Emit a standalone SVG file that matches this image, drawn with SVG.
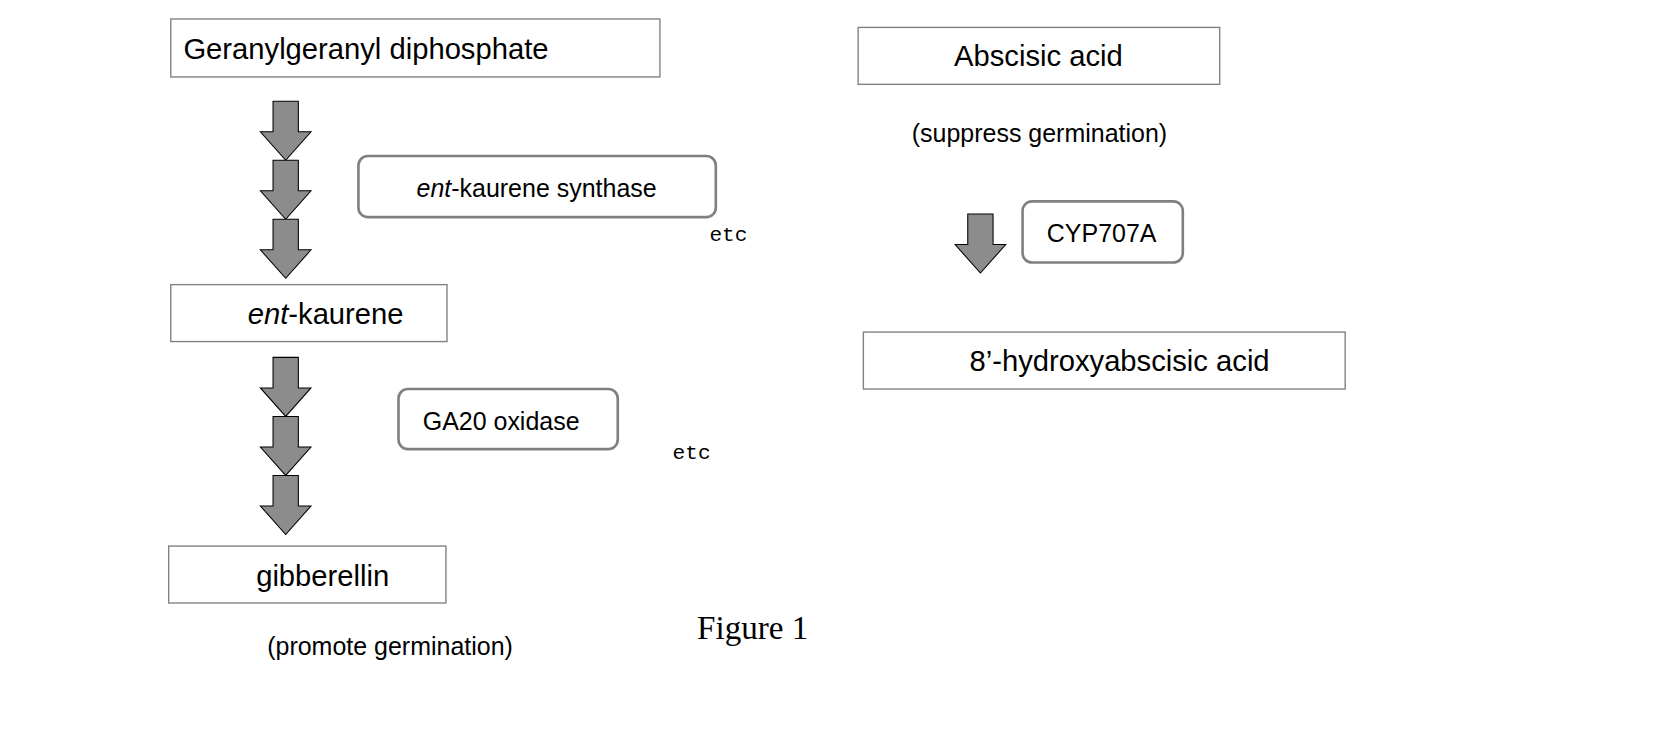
<svg xmlns="http://www.w3.org/2000/svg" width="1653" height="731" viewBox="0 0 1653 731">
<defs>
<style>
.box{fill:#fff;stroke:#808080;stroke-width:1.3}
.rbox{fill:#fff;stroke:#808080;stroke-width:2.5}
.ar{fill:#8c8c8c;stroke:#000;stroke-width:1}
text{font-family:"Liberation Sans",Arial,sans-serif;fill:#000}
.t{font-size:27.7px}
.s{font-size:23.7px}
.m{font-family:"Liberation Mono","DejaVu Sans Mono",monospace;font-size:20px}
</style>
<path id="arrow" class="ar" d="M-12,0 H12 V29 H24 L0,56 L-24,29 H-12 Z"/>
</defs>
<g transform="scale(1.0542)">
<g id="connectors">
<use href="#arrow" x="271" y="96"/>
<use href="#arrow" x="271" y="152"/>
<use href="#arrow" x="271" y="208"/>
<use href="#arrow" x="271" y="339"/>
<use href="#arrow" x="271" y="395"/>
<use href="#arrow" x="271" y="451"/>
<use href="#arrow" x="930" y="203"/>
</g>
<g id="ggpp"><rect class="box" x="162" y="18" width="464" height="55"/><text class="t" x="174" y="56">Geranylgeranyl diphosphate</text></g>
<g id="ks"><rect class="rbox" x="340" y="148" width="339" height="58" rx="9"/><text class="s" x="509" y="187" text-anchor="middle"><tspan font-style="italic">ent</tspan>-kaurene synthase</text></g>
<text class="m" x="673" y="229">etc</text>
<g id="entk"><rect class="box" x="162" y="270" width="262" height="54"/><text class="t" x="235" y="307"><tspan font-style="italic">ent</tspan>-kaurene</text></g>
<g id="ga20"><rect class="rbox" x="378" y="369" width="208" height="57" rx="9"/><text class="s" x="401" y="408">GA20 oxidase</text></g>
<text class="m" x="638" y="435">etc</text>
<g id="gib"><rect class="box" x="160" y="518" width="263" height="54"/><text class="t" x="243" y="556">gibberellin</text></g>
<text class="s" x="370" y="621" text-anchor="middle">(promote germination)</text>
<text x="714" y="606" text-anchor="middle" style="font-family:'Liberation Serif','Times New Roman',serif;font-size:31.4px">Figure 1</text>
<g id="aba"><rect class="box" x="814" y="26" width="343" height="54"/><text class="t" x="985" y="63" text-anchor="middle">Abscisic acid</text></g>
<text class="s" x="986" y="135" text-anchor="middle">(suppress germination)</text>
<g id="cyp"><rect class="rbox" x="970" y="191" width="152" height="58" rx="9"/><text class="s" x="1045" y="230" text-anchor="middle">CYP707A</text></g>
<g id="oh"><rect class="box" x="819" y="315" width="457" height="54"/><text class="t" x="1062" y="352" text-anchor="middle">8’-hydroxyabscisic acid</text></g>
</g>
</svg>
